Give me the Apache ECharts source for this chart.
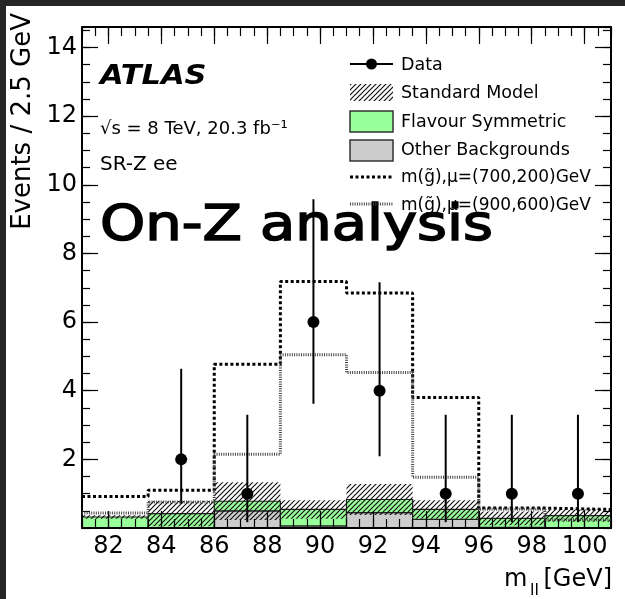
<!DOCTYPE html>
<html>
<head>
<meta charset="utf-8">
<script src="https://cdn.jsdelivr.net/npm/echarts/dist/echarts.min.js"></script>
<style>
  html, body { margin: 0; padding: 0; background: #fff; }
  #chart { width: 625px; height: 599px; }
</style>
</head>
<body>
<div id="chart"></div>
<script>
// m_ll binning (2.5 GeV bins)
const binEdges = [81, 83.5, 86, 88.5, 91, 93.5, 96, 98.5, 101];
// observed events and their asymmetric (Poisson) error bar endpoints
const dataCounts = [0, 2, 1, 6, 4, 1, 1, 1];
const dataErrLow = [0, 0.71, 0.17, 3.62, 2.09, 0.17, 0.17, 0.17];
const dataErrHigh = [0, 4.64, 3.30, 9.58, 7.16, 3.30, 3.30, 3.30];
// stacked backgrounds
const otherBkg = [0, 0, 0.50, 0.06, 0.45, 0.25, 0.02, 0];
const flavourSym = [0.32, 0.42, 0.28, 0.48, 0.38, 0.29, 0.26, 0.36];
const smUncert = [0.05, 0.37, 0.55, 0.27, 0.45, 0.27, 0.20, 0.18];
// signal benchmark points
const sig700 = [0.92, 1.10, 4.77, 7.18, 6.85, 3.80, 0.58, 0.54];
const sig900 = [0.44, 0.76, 2.15, 5.05, 4.53, 1.48, 0.55, 0.24];
// axis tick labels
const xTickLabels = [82, 84, 86, 88, 90, 92, 94, 96, 98, 100];
const yTickLabels = [2, 4, 6, 8, 10, 12, 14];

const FONT = '"DejaVu Sans", "Liberation Sans", sans-serif';

// diagonal hatch tile for the SM uncertainty band
const hatch = document.createElement('canvas');
hatch.width = 5; hatch.height = 5;
(function () {
  const c = hatch.getContext('2d');
  c.strokeStyle = '#111';
  c.lineWidth = 1.2;
  c.beginPath();
  c.moveTo(-1, 6); c.lineTo(6, -1);
  c.moveTo(-1, 1); c.lineTo(1, -1);
  c.moveTo(4, 6); c.lineTo(6, 4);
  c.stroke();
})();
const hatchFill = { image: hatch, repeat: 'repeat' };

function boxRows(lowFn, highFn) {
  const rows = [];
  for (let i = 0; i < binEdges.length - 1; i++) {
    rows.push([binEdges[i], binEdges[i + 1], lowFn(i), highFn(i)]);
  }
  return rows;
}
function boxRender(fill, stroke, lw) {
  return function (params, api) {
    const p0 = api.coord([api.value(0), api.value(3)]);
    const p1 = api.coord([api.value(1), api.value(2)]);
    return {
      type: 'rect',
      shape: { x: p0[0], y: p0[1], width: p1[0] - p0[0], height: p1[1] - p0[1] },
      style: { fill: fill, stroke: stroke, lineWidth: lw }
    };
  };
}
function stepPoints(vals) {
  const pts = [];
  vals.forEach((v, i) => { pts.push([binEdges[i], v]); pts.push([binEdges[i + 1], v]); });
  return pts;
}
const centers = binEdges.slice(0, -1).map((e, i) => (e + binEdges[i + 1]) / 2);
const dataPts = [];
const dataErr = [];
dataCounts.forEach((n, i) => {
  if (n > 0) {
    dataPts.push([centers[i], n]);
    dataErr.push([centers[i], dataErrLow[i], dataErrHigh[i]]);
  }
});

const totals = otherBkg.map((o, i) => o + flavourSym[i]);

function xAxisCfg(pos, major) {
  const a = {
    type: 'value', position: pos, min: 81, max: 101, z: 5,
    axisLine: { show: major, onZero: false, lineStyle: { color: '#000', width: 2 } },
    splitLine: { show: false },
    axisTick: { show: true, inside: true, length: major ? 17 : 9, lineStyle: { color: '#000', width: 1.2 } },
    axisLabel: { show: false }
  };
  if (major) {
    a.axisTick.customValues = xTickLabels;
    if (pos === 'bottom') {
      a.axisLabel = { show: true, customValues: xTickLabels, margin: 7, color: '#000', fontSize: 24, fontFamily: FONT };
    }
  } else {
    a.interval = 0.5;
  }
  return a;
}
function yAxisCfg(pos, major) {
  const a = {
    type: 'value', position: pos, min: 0, max: 14.6, z: 5,
    axisLine: { show: major, onZero: false, lineStyle: { color: '#000', width: 2 } },
    splitLine: { show: false },
    axisTick: { show: true, inside: true, length: major ? 16 : 8, lineStyle: { color: '#000', width: 1.2 } },
    axisLabel: { show: false }
  };
  if (major) {
    a.axisTick.customValues = yTickLabels;
    if (pos === 'left') {
      a.axisLabel = { show: true, customValues: yTickLabels, margin: 5, color: '#000', fontSize: 24, fontFamily: FONT };
    }
  } else {
    a.interval = 0.5;
  }
  return a;
}

function txt(x, y, text, size, opts) {
  opts = opts || {};
  const style = {
    text: text, fill: '#000', fontSize: size, fontFamily: FONT,
    fontWeight: opts.weight || 'normal', fontStyle: opts.style || 'normal',
    align: opts.align || 'left', verticalAlign: 'middle'
  };
  if (opts.outline) { style.stroke = '#000'; style.lineWidth = opts.outline; }
  return {
    type: 'text', x: x, y: y, z: 50, rotation: opts.rotation || 0,
    scaleX: opts.scaleX || 1,
    style: style
  };
}

const legendX = 350, legendW = 43, legendTextX = 401;
const graphics = [
  // screen edge shading
  { type: 'rect', shape: { x: 0, y: 0, width: 625, height: 6 }, style: { fill: '#262626' }, z: 100 },
  { type: 'rect', shape: { x: 0, y: 0, width: 6, height: 599 }, style: { fill: '#262626' }, z: 100 },
  // annotations
  txt(100, 77, 'ATLAS', 27, { weight: 'bold', style: 'italic', scaleX: 1.13 }),
  txt(100, 129, '√s = 8 TeV, 20.3 fb⁻¹', 18),
  txt(100, 165, 'SR-Z ee', 20),
  txt(100, 227, 'On-Z analysis', 50, { scaleX: 1.15, outline: 1.6 }),
  // axis titles
  txt(23, 13, 'Events / 2.5 GeV', 26, { align: 'right', rotation: Math.PI / 2 }),
  txt(504, 580, 'm', 24),
  txt(530, 591, 'll', 16),
  txt(612, 580, '[GeV]', 24, { align: 'right' }),
  // legend: Data
  { type: 'line', z: 50, shape: { x1: legendX, y1: 64, x2: legendX + legendW, y2: 64 }, style: { stroke: '#000', lineWidth: 2 } },
  { type: 'circle', z: 50, shape: { cx: legendX + legendW / 2, cy: 64, r: 5.5 }, style: { fill: '#000' } },
  txt(legendTextX, 65, 'Data', 17.5),
  // legend: SM
  { type: 'rect', z: 50, shape: { x: legendX, y: 84, width: legendW, height: 17 }, style: { fill: hatchFill } },
  txt(legendTextX, 93, 'Standard Model', 17.5),
  // legend: flavour symmetric
  { type: 'rect', z: 50, shape: { x: legendX, y: 111, width: legendW, height: 21 }, style: { fill: '#99ff99', stroke: '#333', lineWidth: 1.5 } },
  txt(legendTextX, 122, 'Flavour Symmetric', 17.5),
  // legend: other backgrounds
  { type: 'rect', z: 50, shape: { x: legendX, y: 140, width: legendW, height: 21 }, style: { fill: '#cccccc', stroke: '#333', lineWidth: 1.5 } },
  txt(legendTextX, 150, 'Other Backgrounds', 17.5),
  // legend: signal points
  { type: 'line', z: 50, shape: { x1: legendX, y1: 177, x2: legendX + legendW, y2: 177 }, style: { stroke: '#000', lineWidth: 3, lineDash: [3, 2.5] } },
  txt(legendTextX, 178, 'm(g̃),μ=(700,200)GeV', 17),
  { type: 'line', z: 50, shape: { x1: legendX, y1: 204, x2: legendX + legendW, y2: 204 }, style: { stroke: '#444', lineWidth: 3, lineDash: [1, 1.3] } },
  txt(legendTextX, 206, 'm(g̃),μ=(900,600)GeV', 17)
];

const chart = echarts.init(document.getElementById('chart'), null, { renderer: 'canvas' });
chart.setOption({
  animation: false,
  backgroundColor: '#fff',
  grid: { left: 82, right: 14, top: 27, bottom: 71 },
  xAxis: [xAxisCfg('bottom', true), xAxisCfg('bottom', false), xAxisCfg('top', true), xAxisCfg('top', false)],
  yAxis: [yAxisCfg('left', true), yAxisCfg('left', false), yAxisCfg('right', true), yAxisCfg('right', false)],
  graphic: graphics,
  series: [
    {
      name: 'Other Backgrounds', type: 'custom', z: 2,
      renderItem: boxRender('#cccccc', '#333', 1.2),
      encode: { x: [0, 1], y: [2, 3] },
      data: boxRows(() => 0, i => otherBkg[i])
    },
    {
      name: 'Flavour Symmetric', type: 'custom', z: 3,
      renderItem: boxRender('#99ff99', '#222', 1.2),
      encode: { x: [0, 1], y: [2, 3] },
      data: boxRows(i => otherBkg[i], i => totals[i])
    },
    {
      name: 'Standard Model', type: 'custom', z: 4,
      renderItem: boxRender(hatchFill, null, 0),
      encode: { x: [0, 1], y: [2, 3] },
      data: boxRows(i => Math.max(0, totals[i] - smUncert[i]), i => totals[i] + smUncert[i])
    },
    {
      name: '700,200', type: 'line', z: 6, symbol: 'none',
      lineStyle: { color: '#000', width: 3, type: [3, 2.5] },
      data: stepPoints(sig700)
    },
    {
      name: '900,600', type: 'line', z: 6, symbol: 'none',
      lineStyle: { color: '#444', width: 3, type: [1, 1.3] },
      data: stepPoints(sig900)
    },
    {
      name: 'Data errors', type: 'custom', z: 8,
      encode: { x: 0, y: [1, 2] },
      renderItem: function (params, api) {
        const lo = api.coord([api.value(0), api.value(1)]);
        const hi = api.coord([api.value(0), api.value(2)]);
        return { type: 'line', shape: { x1: lo[0], y1: lo[1], x2: hi[0], y2: hi[1] }, style: { stroke: '#000', lineWidth: 2 } };
      },
      data: dataErr
    },
    {
      name: 'Data', type: 'scatter', z: 9, symbol: 'circle', symbolSize: 12,
      itemStyle: { color: '#000', opacity: 1 },
      data: dataPts
    }
  ]
});
</script>
</body>
</html>
